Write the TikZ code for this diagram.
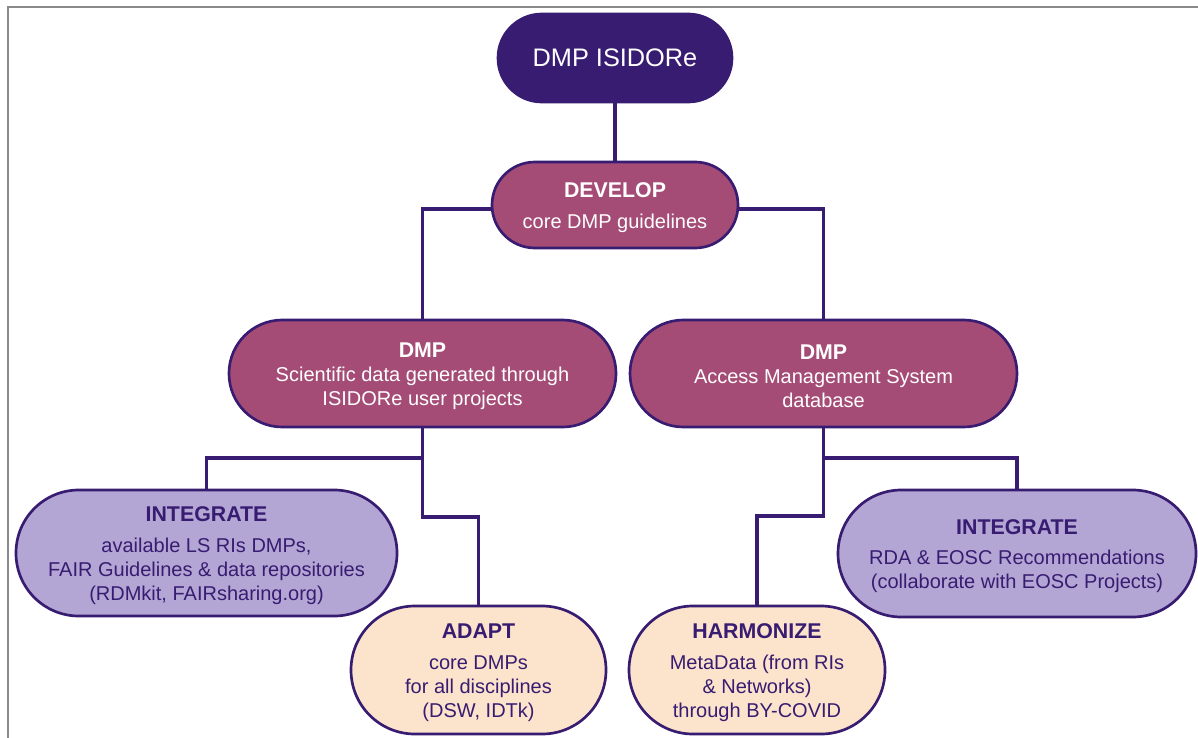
\documentclass[tikz,border=0pt]{standalone}
\usepackage{fontspec}
\setmainfont{Liberation Sans}
\usetikzlibrary{backgrounds}
\definecolor{dkpurple}{HTML}{371C71}
\definecolor{mauve}{HTML}{A54C76}
\definecolor{lavender}{HTML}{B3A6D4}
\definecolor{peach}{HTML}{FCE4CC}
\definecolor{framegray}{HTML}{8A8A8A}
\newcommand\bodyf{\fontsize{15pt}{18pt}\selectfont}
\newcommand\headf{\fontsize{16pt}{18pt}\selectfont\bfseries}
\newcommand\hstrut{\rule{0pt}{15pt}}
\begin{document}
\begin{tikzpicture}[x=0.75pt,y=-0.75pt,
  pill/.style={draw=dkpurple, line width=2pt, align=center, inner sep=0pt, font=\bodyf},
  toppill/.style={pill, fill=dkpurple, text=white, minimum width=175.5pt, minimum height=66pt, rounded corners=32.9pt, font=\fontsize{19pt}{22pt}\selectfont},
  mauvepill/.style={pill, fill=mauve, text=white},
  lavpill/.style={pill, fill=lavender, text=dkpurple},
  peachpill/.style={pill, fill=peach, text=dkpurple},
  conn/.style={draw=dkpurple, line width=2.6pt},
  framec/.style={draw=framegray, line width=1.5pt}]
\useasboundingbox (0,0) rectangle (1198,738);
\draw[framec] (1198,7) -- (8,7) -- (8,738);

\node[toppill] (top) at (615,58) {DMP ISIDORe};
\node[mauvepill, minimum width=184.5pt, minimum height=64.5pt, rounded corners=32.2pt] (dev) at (615,205)
  {{\headf\hstrut DEVELOP}\\[5pt] core DMP guidelines};
\node[mauvepill, minimum width=290.25pt, minimum height=80.25pt, rounded corners=40pt] (dmpL) at (422.5,373.5)
  {{\headf\hstrut DMP}\\[0pt] Scientific data generated through\\ ISIDORe user projects};
\node[mauvepill, minimum width=290.25pt, minimum height=80.25pt, rounded corners=40pt] (dmpR) at (823.5,373.5)
  {{\headf\hstrut DMP}\\[0pt] Access Management System\\ database};
\node[lavpill, minimum width=285.75pt, minimum height=94.5pt, rounded corners=47.1pt] (intL) at (206.5,553)
  {{\headf\hstrut INTEGRATE}\\[5pt] available LS RIs DMPs,\\ FAIR Guidelines \& data repositories\\ (RDMkit, FAIRsharing.org)};
\node[peachpill, minimum width=191.25pt, minimum height=96pt, rounded corners=47.9pt] (adapt) at (478.5,670)
  {{\headf\hstrut ADAPT}\\[5pt] core DMPs\\ for all disciplines\\ (DSW, IDTk)};
\node[peachpill, minimum width=192pt, minimum height=96pt, rounded corners=47.9pt] (harm) at (757,670)
  {{\headf\hstrut HARMONIZE}\\[5pt] MetaData (from RIs\\ \& Networks)\\ through BY-COVID};
\node[lavpill, minimum width=268.5pt, minimum height=95.25pt, rounded corners=47.5pt] (intR) at (1017,553.5)
  {{\headf\hstrut INTEGRATE}\\[5pt] RDA \& EOSC Recommendations\\ (collaborate with EOSC Projects)};

\coordinate (jL) at (422.5,458);
\coordinate (kL) at (422.5,517);
\coordinate (jR) at (823.5,458);
\coordinate (kR) at (823.5,516);

\begin{scope}[on background layer]
\draw[conn] (top.south) -- (dev.north);
\draw[conn] ([yshift=-3pt]dev.west) -| (dmpL.north);
\draw[conn] ([yshift=-3pt]dev.east) -| (dmpR.north);
\draw[conn] (dmpL.south) -- (jL) -| (intL.north);
\draw[conn] (jL) -- (kL) -| (adapt.north);
\draw[conn] (dmpR.south) -- (jR) -| (intR.north);
\draw[conn] (jR) -- (kR) -| (harm.north);
\end{scope}
\end{tikzpicture}
\end{document}
